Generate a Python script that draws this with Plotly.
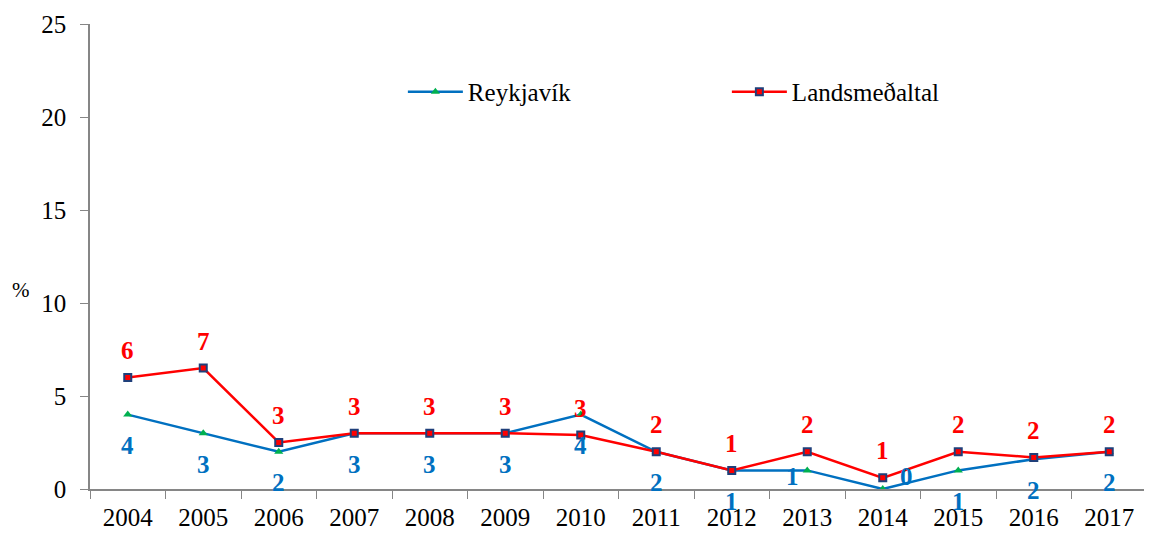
import plotly.graph_objects as go

years = ["2004", "2005", "2006", "2007", "2008", "2009", "2010",
         "2011", "2012", "2013", "2014", "2015", "2016", "2017"]
reykjavik = [4.0, 3.0, 2.0, 3.0, 3.0, 3.0, 4.0, 2.0, 1.0, 1.0, 0.0, 1.0, 1.6, 2.0]
lands = [6.0, 6.5, 2.5, 3.0, 3.0, 3.0, 2.9, 2.0, 1.0, 2.0, 0.6, 2.0, 1.7, 2.0]
reyk_labels = ["4", "3", "2", "3", "3", "3", "4", "2", "1", "1", "0", "1", "2", "2"]
lands_labels = ["6", "7", "3", "3", "3", "3", "3", "2", "1", "2", "1", "2", "2", "2"]

BLUE = "#0070C0"
RED = "#FF0000"
FONT = "'Times New Roman', 'Liberation Serif', serif"

# label pixel offsets for the blue labels (most sit below the point)
reyk_xshift = [0] * 14
reyk_yshift = [-31] * 14
reyk_xshift[9], reyk_yshift[9] = -15, -6     # 2013
reyk_xshift[10], reyk_yshift[10] = 24, 13    # 2014

fig = go.Figure()
fig.add_trace(go.Scatter(
    x=years, y=reykjavik, name="Reykjavík", mode="lines+markers",
    line=dict(color=BLUE, width=2.5),
    marker=dict(symbol="triangle-up", color="#00B050", size=8),
))
fig.add_trace(go.Scatter(
    x=years, y=lands, name="Landsmeðaltal", mode="lines+markers",
    line=dict(color=RED, width=2.5),
    marker=dict(symbol="square", color=RED, size=7,
                line=dict(color="#1F3F7A", width=2)),
))

for i in range(len(years)):
    fig.add_annotation(x=i, y=lands[i], text=f"<b>{lands_labels[i]}</b>",
                       showarrow=False, yshift=27,
                       font=dict(family=FONT, size=25, color=RED))
    fig.add_annotation(x=i, y=reykjavik[i], text=f"<b>{reyk_labels[i]}</b>",
                       showarrow=False, yshift=reyk_yshift[i], xshift=reyk_xshift[i],
                       font=dict(family=FONT, size=25, color=BLUE))

fig.add_annotation(x=0, xref="paper", xshift=-80, y=10, yref="y", yshift=13,
                   text="%", showarrow=False,
                   font=dict(family=FONT, size=21, color="black"))

fig.update_layout(
    width=1144, height=525,
    margin=dict(l=82, r=5, t=16, b=44),
    plot_bgcolor="white", paper_bgcolor="white",
    font=dict(family=FONT, size=25, color="black"),
    showlegend=True,
    legend=dict(orientation="h", x=0.296, xanchor="left", y=0.854, yanchor="middle",
                bgcolor="rgba(0,0,0,0)", font=dict(family=FONT, size=25),
                entrywidth=254, entrywidthmode="pixels", itemwidth=55),
    xaxis=dict(type="category", range=[-0.5, 13.5], tickson="boundaries",
               ticks="outside", ticklen=8, tickangle=0, ticklabelstandoff=5,
               automargin=False,
               tickcolor="#868686", showline=True, linecolor="#868686", linewidth=1.5,
               showgrid=False, zeroline=False, tickfont=dict(family=FONT, size=25)),
    yaxis=dict(range=[0, 25], tickvals=[0, 5, 10, 15, 20, 25], ticks="outside",
               ticklen=8, ticklabelstandoff=9, tickcolor="#868686", showline=True,
               automargin=False,
               linecolor="#868686", linewidth=1.5, showgrid=False, zeroline=False,
               tickfont=dict(family=FONT, size=25)),
)

fig.write_html("out.html")
